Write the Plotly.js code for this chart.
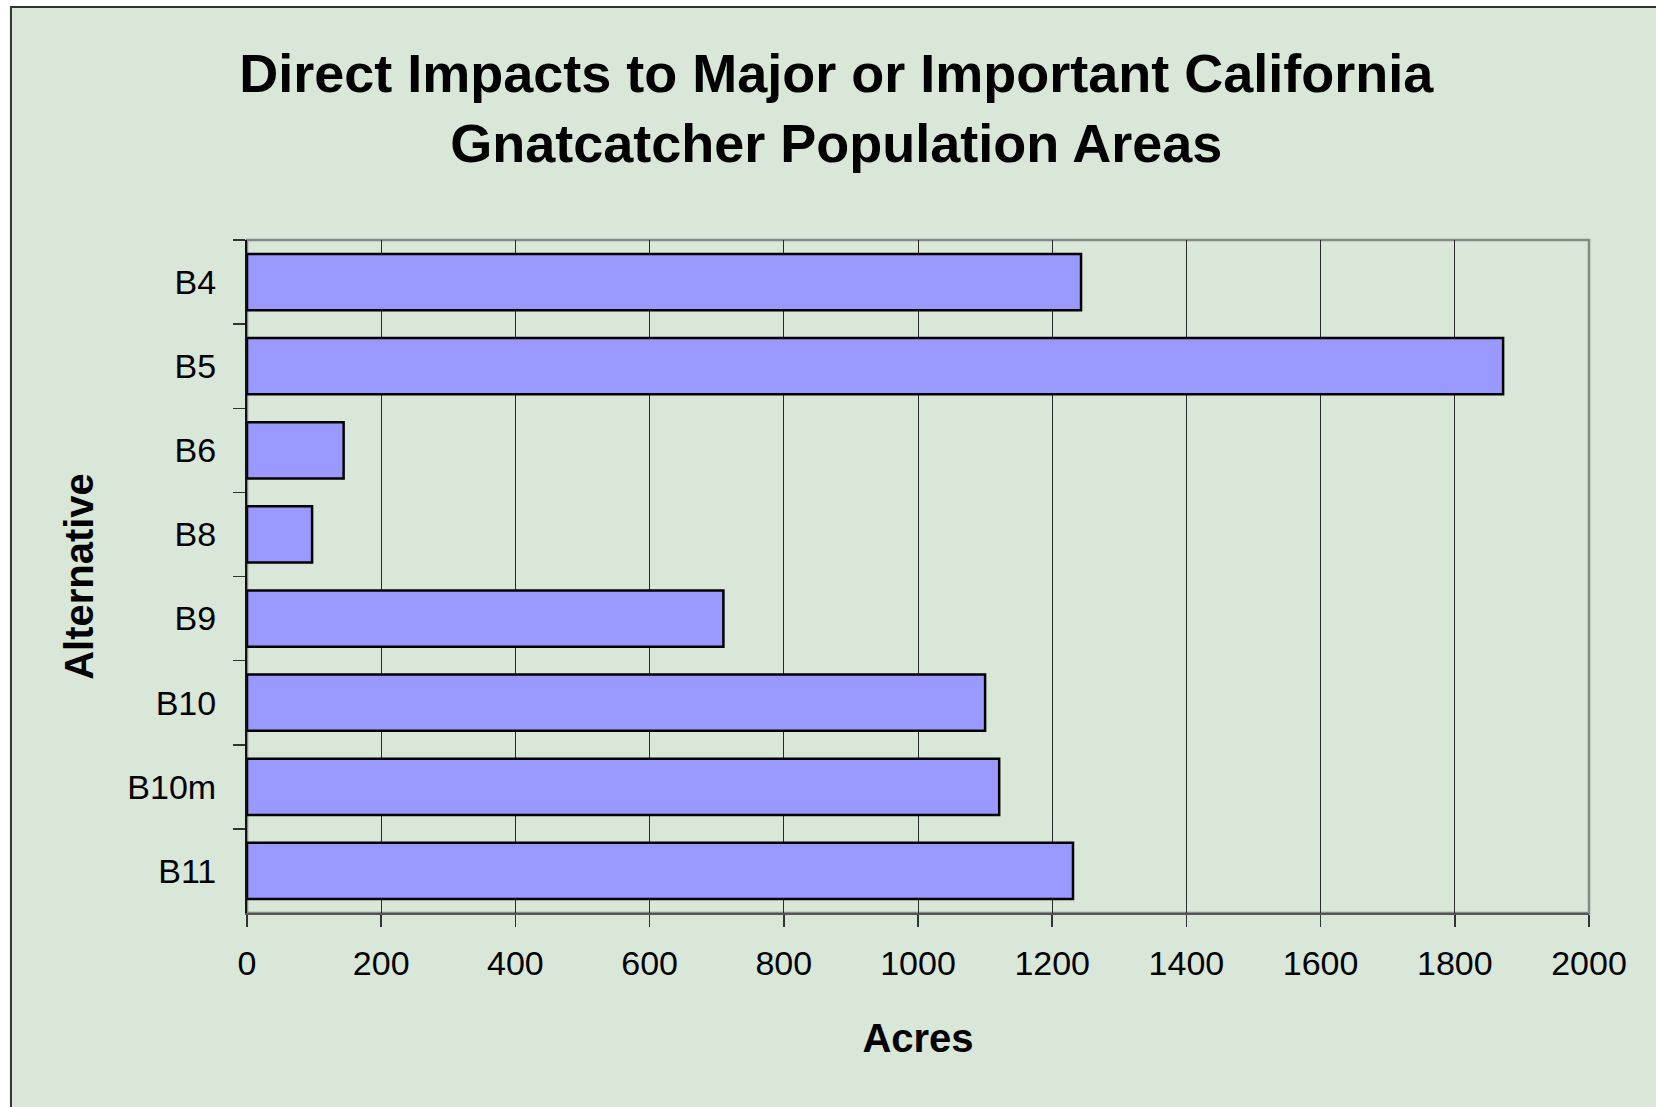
<!DOCTYPE html>
<html>
<head>
<meta charset="utf-8">
<script src="https://cdn.plot.ly/plotly-3.0.1.min.js"></script>
<style>
  html, body { margin: 0; padding: 0; background: #ffffff; }
  #chart { width: 1656px; height: 1107px; }
</style>
</head>
<body>
<div id="chart"></div>
<script>
// Alternatives and the acres of gnatcatcher population area each one directly affects
const alternatives = ["B4", "B5", "B6", "B8", "B9", "B10", "B10m", "B11"];
const acres = [1243, 1872, 144, 97, 710, 1100, 1121, 1231];
const acreTicks = [0, 200, 400, 600, 800, 1000, 1200, 1400, 1600, 1800, 2000];

const chartTitle = "Direct Impacts to Major or Important California<br>Gnatcatcher Population Areas";
const xTitle = "Acres";
const yTitle = "Alternative";

const FONT = "Liberation Sans, Arial, Helvetica, sans-serif";
const PANEL = "#d9e7d8";

const trace = {
  type: "bar",
  orientation: "h",
  y: alternatives,
  x: acres,
  marker: { color: "#9999ff", line: { color: "#000000", width: 2.5 } },
  hoverinfo: "x+y"
};

const layout = {
  width: 1656,
  height: 1107,
  margin: { l: 247, r: 67, t: 240, b: 194 },
  paper_bgcolor: "#ffffff",
  plot_bgcolor: "rgba(0,0,0,0)",
  showlegend: false,
  bargap: 0.33,
  font: { family: FONT, color: "#000000", size: 34 },
  title: {
    text: chartTitle,
    font: { family: FONT, size: 54, weight: "bold", color: "#000000" },
    xref: "container", x: 0.505, xanchor: "center",
    yref: "container", y: 0.917, yanchor: "middle"
  },
  xaxis: {
    range: [0, 2000],
    tickvals: acreTicks,
    ticktext: acreTicks.map(String),
    showgrid: true, gridcolor: "#2a2a2a", gridwidth: 1,
    zeroline: false,
    showline: true, linecolor: "#555555", linewidth: 2,
    ticks: "outside", ticklen: 12, tickcolor: "#333333", tickwidth: 1.5,
    tickfont: { family: FONT, size: 34, color: "#000000" },
    ticklabelstandoff: 7,
    title: { text: xTitle, font: { family: FONT, size: 40, weight: "bold" }, standoff: 43 },
    fixedrange: true
  },
  yaxis: {
    type: "category",
    categoryorder: "array", categoryarray: alternatives,
    autorange: "reversed",
    tickson: "boundaries",
    ticks: "outside", ticklen: 12, tickcolor: "#333333", tickwidth: 1.5,
    showgrid: false, zeroline: false,
    showline: true, linecolor: "#111111", linewidth: 2,
    tickfont: { family: FONT, size: 34, color: "#000000" },
    ticklabelstandoff: 22,
    title: { text: yTitle, font: { family: FONT, size: 40, weight: "bold" }, standoff: 21 },
    fixedrange: true
  },
  shapes: [
    // chart panel with its dark frame
    {
      type: "rect", layer: "below", xref: "paper", yref: "paper",
      x0: -0.1759, x1: 1.06, y0: -0.30, y1: 1.3462,
      fillcolor: PANEL, line: { color: "#333333", width: 2 }
    },
    // plot-area frame
    {
      type: "rect", layer: "below", xref: "paper", yref: "paper",
      x0: 0, x1: 1, y0: 0, y1: 1,
      fillcolor: "rgba(0,0,0,0)", line: { color: "#888888", width: 2.5 }
    }
  ]
};

Plotly.newPlot("chart", [trace], layout, { displayModeBar: false, staticPlot: true });
</script>
</body>
</html>
